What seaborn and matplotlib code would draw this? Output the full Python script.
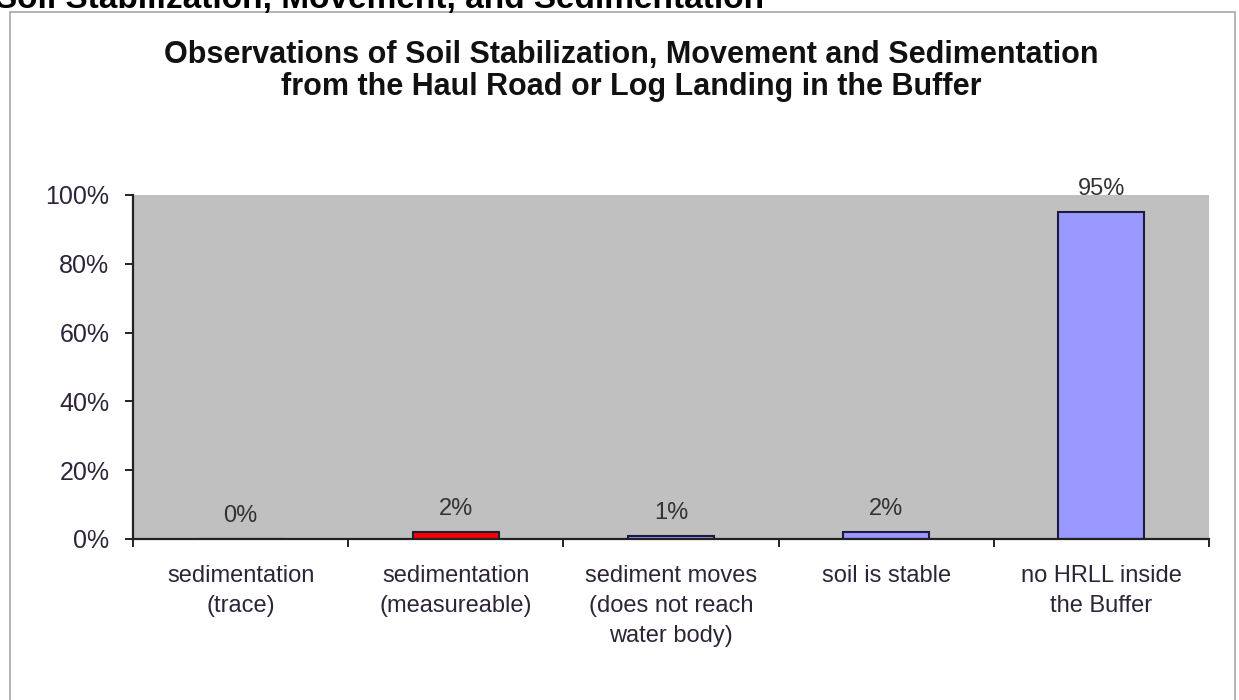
import matplotlib
matplotlib.use("Agg")
import matplotlib.pyplot as plt
import matplotlib.patches as mpatches
from matplotlib.ticker import FuncFormatter, FixedLocator
import seaborn as sns
import pandas as pd

categories = [
    "sedimentation\n(trace)",
    "sedimentation\n(measureable)",
    "sediment moves\n(does not reach\nwater body)",
    "soil is stable",
    "no HRLL inside\nthe Buffer",
]
shares = [0.0, 0.02, 0.01, 0.02, 0.95]
value_labels = ["0%", "2%", "1%", "2%", "95%"]
bar_colors = ["#9999FF", "#FF0000", "#9999FF", "#9999FF", "#9999FF"]

df = pd.DataFrame({"category": categories, "share": shares})

sns.set_theme(style="white")
plt.rcParams["font.family"] = ["Liberation Sans", "DejaVu Sans"]

fig = plt.figure(figsize=(12.39, 7.0), dpi=100)
fig.patch.set_facecolor("white")

# outer chart frame (runs off the bottom of the picture)
fig.add_artist(mpatches.Rectangle((10 / 1239, -0.05), 1225 / 1239, 1 - 12 / 700 + 0.05,
                                  transform=fig.transFigure, fill=False,
                                  edgecolor="#a8a8a8", linewidth=1.2))

# caption cut off at the top of the page
fig.text(-0.004, 1 - 8 / 700, "Soil Stabilization, Movement, and Sedimentation",
         fontsize=24, fontweight="bold", color="black", ha="left", va="baseline")

fig.text(0.5095, 1 - 71 / 700,
         "Observations of Soil Stabilization, Movement and Sedimentation\n"
         "from the Haul Road or Log Landing in the Buffer",
         fontsize=22, fontweight="bold", color="#111111", ha="center", va="center",
         linespacing=1.1)

ax = fig.add_axes([133 / 1239, 1 - 539 / 700, (1209 - 133) / 1239, (539 - 195) / 700])
ax.set_facecolor("#C0C0C0")

sns.barplot(data=df, x="category", y="share", hue="category", palette=bar_colors,
            saturation=1, width=0.4, edgecolor="#1c1c3c", linewidth=1.5,
            legend=False, ax=ax)

for i, (v, lab) in enumerate(zip(shares, value_labels)):
    ax.text(i, v + 0.035, lab, ha="center", va="bottom", fontsize=17, color="#333333")

ax.set_xlim(-0.5, 4.5)
ax.set_ylim(0, 1.0)
ax.set_xlabel("")
ax.set_ylabel("")
ax.yaxis.set_major_locator(FixedLocator([0, 0.2, 0.4, 0.6, 0.8, 1.0]))
ax.yaxis.set_major_formatter(FuncFormatter(lambda y, _: f"{y:.0%}"))
ax.xaxis.set_minor_locator(FixedLocator([-0.5, 0.5, 1.5, 2.5, 3.5, 4.5]))

for s in ["top", "right"]:
    ax.spines[s].set_visible(False)
for s in ["left", "bottom"]:
    ax.spines[s].set_color("#222222")
    ax.spines[s].set_linewidth(1.6)

ax.tick_params(axis="y", which="major", left=True, direction="out", length=6,
               width=1.4, color="#222222", pad=11, labelsize=18, labelcolor="#2e2438")
ax.tick_params(axis="x", which="major", bottom=False, length=0, pad=19,
               labelsize=17, labelcolor="#2e2438")
ax.tick_params(axis="x", which="minor", bottom=True, direction="out", length=6,
               width=1.4, color="#222222")
ax.tick_params(axis="y", which="minor", left=False)
for t in ax.get_xticklabels():
    t.set_linespacing(1.45)
ax.grid(False)

fig.savefig("out.png", dpi=100, facecolor="white")
plt.close(fig)
